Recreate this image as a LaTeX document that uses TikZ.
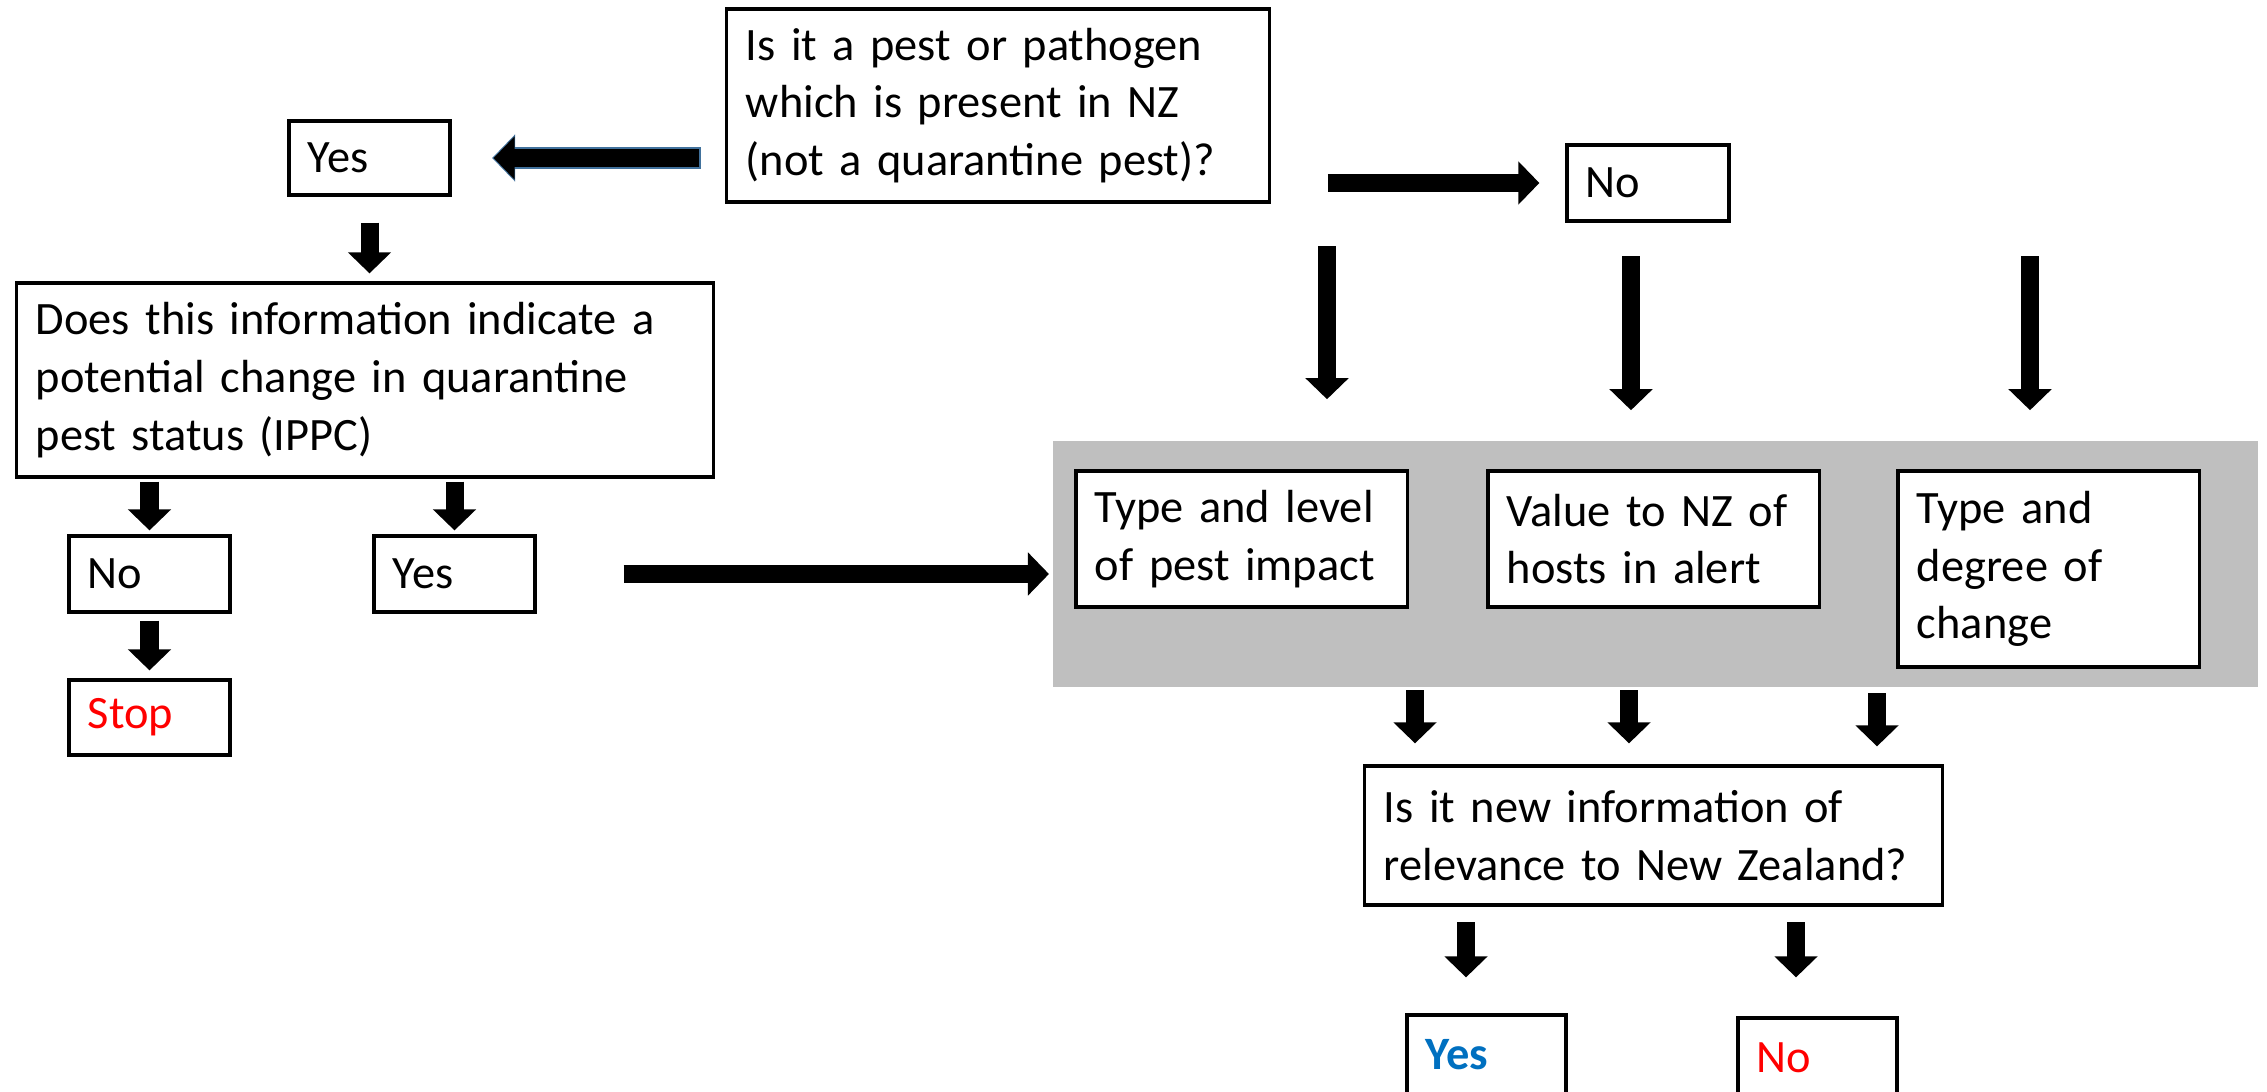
\documentclass[tikz,border=0pt]{standalone}
\usepackage{fontspec}
\setmainfont{Carlito}
\usetikzlibrary{arrows.meta}
\definecolor{panelgray}{HTML}{BFBFBF}
\definecolor{yesblue}{HTML}{0070C0}
\definecolor{stopred}{HTML}{FF0000}
\definecolor{edgeblue}{HTML}{41719C}

\begin{document}
\begin{tikzpicture}[x=0.01cm, y=-0.01cm,
  box/.style={draw, fill=white, line width=0.9pt, align=left, inner xsep=0.19cm, inner ysep=0pt,
    font=\fontsize{13.2}{16.45}\selectfont},
  arr/.style={line width=0.18cm, -{Triangle[width=0.42cm, length=0.21cm]}}]
\useasboundingbox (0,0) rectangle (2267,1091);

% grey panel behind the three criteria
\node[fill=panelgray, inner sep=0pt, minimum width=12.05cm, minimum height=2.46cm] (panel) at (1655.5,564) {};

% boxes
\node[box, text width=5.04cm, minimum height=1.93cm] (q1) at (998,105.5) {Is it a pest or pathogen\\which is present in NZ\\(not a quarantine pest)?};
\node[box, text width=1.23cm, minimum height=0.74cm] (yes1) at (369.5,158) {Yes};
\node[box, text width=1.24cm, minimum height=0.76cm] (no1) at (1648,183) {No};
\node[box, text width=6.58cm, minimum height=1.94cm] (q2) at (365,380) {Does this information indicate a\\potential change in quarantine\\pest status (IPPC)};
\node[box, text width=1.23cm, minimum height=0.76cm] (no2) at (149.5,574) {No};
\node[box, text width=1.23cm, minimum height=0.76cm] (yes2) at (454.5,574) {Yes};
\node[box, text width=1.23cm, minimum height=0.75cm] (stop) at (149.5,717.5) {\textcolor{stopred}{Stop}};
\node[box, text width=2.93cm, minimum height=1.36cm] (ina) at (1241.5,539) {Type and level\\of pest impact};
\node[box, text width=2.93cm, minimum height=1.36cm] (inb) at (1653.5,539) {Value to NZ of\\hosts in alert};
\node[box, text width=2.63cm, minimum height=1.96cm] (inc) at (2048.5,569) {Type and\\degree of\\change};
\node[box, text width=5.39cm, minimum height=1.39cm] (q3) at (1653.5,835.5) {Is it new information of\\relevance to New Zealand?};
\node[box, text width=1.21cm, minimum height=0.80cm] (yes3) at (1486.5,1055) {\textcolor{yesblue}{\bfseries Yes}};
\node[box, text width=1.21cm, minimum height=0.80cm] (no3) at (1817.5,1058) {\textcolor{stopred}{No}};

% free arrow ends
\coordinate (n1) at (1327,246);
\coordinate (n2) at (1631,256);
\coordinate (n3) at (2030,256);
\coordinate (p1) at (1415,687);
\coordinate (p2) at (1629,687);
\coordinate (p3) at (1877,687);
\coordinate (r1) at (1466,905);
\coordinate (r2) at (1796,905);

% left branch
\draw[arr, edgeblue, line width=0.21cm, -{Triangle[width=0.46cm, length=0.23cm]}, shorten <=0.245cm, shorten >=0.405cm] (q1.west |- yes1.east) -- (yes1.east);
\draw[arr, shorten <=0.26cm, shorten >=0.42cm] (q1.west |- yes1.east) -- (yes1.east);
\draw[arr, shorten <=0.26cm, shorten >=0.08cm] (yes1.south) -- (yes1.south |- q2.north);
\draw[arr, shorten <=0.03cm, shorten >=0.04cm] (no2.north |- q2.south) -- (no2.north);
\draw[arr, shorten <=0.03cm, shorten >=0.04cm] (yes2.north |- q2.south) -- (yes2.north);
\draw[arr, shorten <=0.07cm, shorten >=0.08cm] (no2.south) -- (stop.north);
\draw[arr, shorten <=0.87cm, shorten >=0.03cm] (yes2.east) -- (yes2.east -| panel.west);

% right branch
\draw[arr, shorten <=0.57cm, shorten >=0.26cm] (no1.west -| q1.east) -- (no1.west);
\draw[arr, shorten >=0.41cm] (n1) -- (n1 |- panel.north);
\draw[arr, shorten >=0.30cm] (n2) -- (n2 |- panel.north);
\draw[arr, shorten >=0.30cm] (n3) -- (n3 |- panel.north);

% into the last question
\draw[arr, shorten <=0.03cm, shorten >=0.21cm] (p1) -- (p1 |- q3.north);
\draw[arr, shorten <=0.03cm, shorten >=0.21cm] (p2) -- (p2 |- q3.north);
\draw[arr, shorten <=0.06cm, shorten >=0.18cm] (p3) -- (p3 |- q3.north);
\draw[arr, shorten <=0.17cm, shorten >=0.36cm] (r1) -- (r1 |- yes3.north);
\draw[arr, shorten <=0.17cm, shorten >=0.39cm] (r2) -- (r2 |- no3.north);
\end{tikzpicture}
\end{document}
